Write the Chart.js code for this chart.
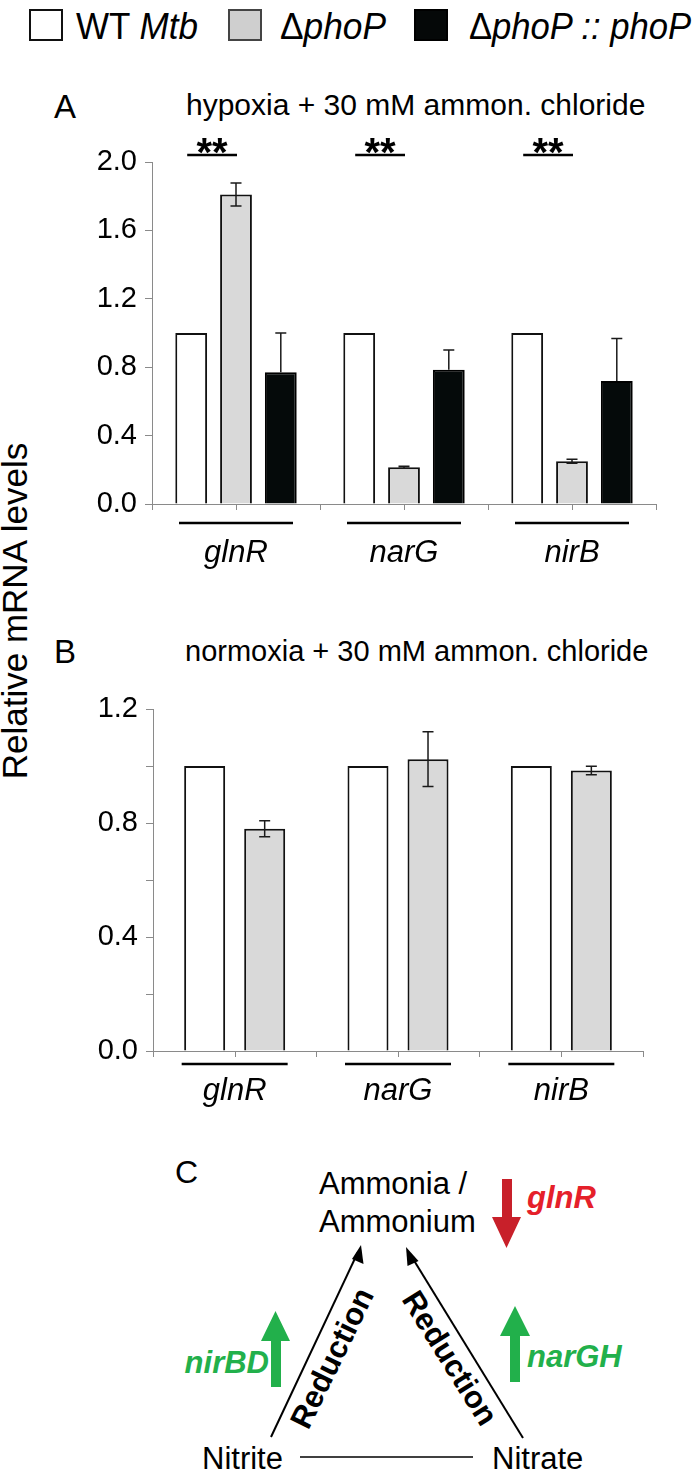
<!DOCTYPE html>
<html>
<head>
<meta charset="utf-8">
<script src="https://cdn.jsdelivr.net/npm/chart.js@4.4.1/dist/chart.umd.min.js"></script>
<style>
  html, body { margin: 0; padding: 0; background: #fff; }
  #page { position: relative; width: 700px; height: 1473px; overflow: hidden; font-family: 'Liberation Sans', Arial, Helvetica, sans-serif; }
  #page svg { position: absolute; left: 0; top: 0; }
  canvas { position: absolute; left: 0; }
  #chartA { top: 120px; }
  #chartB { top: 680px; }
</style>
</head>
<body>
<div id="page">
  <svg width="700" height="1473" font-family="'Liberation Sans', Arial, Helvetica, sans-serif">
    <!-- legend -->
    <rect x="30" y="10" width="32" height="30" fill="#fff" stroke="#111" stroke-width="2"/>
    <text x="76" y="39" font-size="36" textLength="122" lengthAdjust="spacingAndGlyphs">WT <tspan font-style="italic">Mtb</tspan></text>
    <rect x="229" y="10" width="32" height="30" fill="#cfcfcf" stroke="#444" stroke-width="2"/>
    <text x="280" y="39" font-size="36" textLength="106" lengthAdjust="spacingAndGlyphs">Δ<tspan font-style="italic">phoP</tspan></text>
    <rect x="415" y="10" width="32" height="30" fill="#050808" stroke="#000" stroke-width="2"/>
    <text x="469" y="39" font-size="36" textLength="222" lengthAdjust="spacingAndGlyphs">Δ<tspan font-style="italic">phoP :: phoP</tspan></text>

    <!-- panel titles -->
    <text x="54" y="118" font-size="33">A</text>
    <text x="186" y="115" font-size="30">hypoxia + 30 mM ammon. chloride</text>
    <text x="54" y="663" font-size="33">B</text>
    <text x="185" y="661" font-size="29">normoxia + 30 mM ammon. chloride</text>

    <!-- shared y title -->
    <text transform="translate(27,611) rotate(-90)" text-anchor="middle" font-size="35">Relative mRNA levels</text>

    <!-- panel C diagram -->
    <text x="175" y="1183" font-size="32">C</text>
    <text x="319" y="1194" font-size="31">Ammonia /</text>
    <text x="319" y="1232" font-size="31">Ammonium</text>
    <polygon points="502,1179 512,1179 512,1217 521,1217 506.5,1248 492,1217 502,1217" fill="#c8202a"/>
    <text x="527" y="1208" font-size="31" font-weight="bold" font-style="italic" fill="#e5202a">glnR</text>

    <line x1="271" y1="1437" x2="358" y2="1252" stroke="#000" stroke-width="2"/>
    <polygon points="361,1245 363.5,1264 352,1259" fill="#000"/>
    <line x1="523" y1="1438" x2="410" y2="1254" stroke="#000" stroke-width="2"/>
    <polygon points="406,1247 418.5,1261 407.5,1266" fill="#000"/>

    <text transform="translate(332,1358) rotate(-64)" text-anchor="middle" dominant-baseline="central" font-size="31" font-weight="bold">Reduction</text>
    <text transform="translate(450,1358) rotate(58)" text-anchor="middle" dominant-baseline="central" font-size="31" font-weight="bold">Reduction</text>

    <polygon points="271,1387 281,1387 281,1341 290,1341 275.5,1311 261,1341 271,1341" fill="#22b04b"/>
    <text x="269" y="1373" text-anchor="end" font-size="31" font-weight="bold" font-style="italic" fill="#22b04b">nirBD</text>
    <polygon points="510,1382 520,1382 520,1336 530,1336 515,1306 500,1336 510,1336" fill="#22b04b"/>
    <text x="527" y="1367" font-size="31" font-weight="bold" font-style="italic" fill="#22b04b">narGH</text>

    <text x="202" y="1469" font-size="31">Nitrite</text>
    <line x1="300" y1="1457" x2="473" y2="1457" stroke="#000" stroke-width="1.5"/>
    <text x="492" y="1469" font-size="31">Nitrate</text>
  </svg>
  <canvas id="chartA" width="700" height="480"></canvas>
  <canvas id="chartB" width="700" height="440"></canvas>
</div>
<script>
const genes = ["glnR", "narG", "nirB"];
const strains = ["WT Mtb", "ΔphoP", "ΔphoP :: phoP"];

// hypoxia + 30 mM ammonium chloride
const hypoxiaWT = [1.0, 1.0, 1.0];
const hypoxiaPhoP = [1.81, 0.215, 0.25];
const hypoxiaComp = [0.77, 0.785, 0.72];
const hypoxiaPhoPErr = [0.067, 0.006, 0.012];
const hypoxiaCompErr = [0.23, 0.115, 0.248];
const hypoxiaSig = ["**", "**", "**"];

// normoxia + 30 mM ammonium chloride
const normoxiaWT = [1.0, 1.0, 1.0];
const normoxiaPhoP = [0.78, 1.024, 0.984];
const normoxiaPhoPErr = [0.028, 0.096, 0.015];

const FONT = "'Liberation Sans', Arial, Helvetica, sans-serif";
const AXIS_GREY = "#8a8a8a";
const WHITE = "#ffffff";
const GREY = "#d9d9d9";
const BLACK = "#050a0a";

Chart.defaults.font.family = FONT;
Chart.defaults.color = "#000";

// error bars, centre ticks, gene underlines and significance marks
const extrasPlugin = {
    id: "extras",
    afterDatasetsDraw(chart, args, opts) {
        const { ctx, chartArea } = chart;
        const x = chart.scales.x;
        const y = chart.scales.y;
        ctx.save();

        ctx.strokeStyle = "#1a1a1a";
        ctx.lineWidth = 1.5;
        (opts.errors || []).forEach((errs, di) => {
            if (!errs) return;
            const upOnly = opts.upOnly && opts.upOnly[di];
            const meta = chart.getDatasetMeta(di);
            meta.data.forEach((bar, i) => {
                const v = chart.data.datasets[di].data[i];
                const e = errs[i];
                if (!e) return;
                const yTop = y.getPixelForValue(v + e);
                const yBot = upOnly ? y.getPixelForValue(v) : y.getPixelForValue(v - e);
                ctx.beginPath();
                ctx.moveTo(bar.x, yTop);
                ctx.lineTo(bar.x, yBot);
                ctx.moveTo(bar.x - 5.5, yTop);
                ctx.lineTo(bar.x + 5.5, yTop);
                if (!upOnly) {
                    ctx.moveTo(bar.x - 5.5, yBot);
                    ctx.lineTo(bar.x + 5.5, yBot);
                }
                ctx.stroke();
            });
        });

        // tick marks at category centres
        ctx.strokeStyle = AXIS_GREY;
        ctx.lineWidth = 1;
        x.ticks.forEach((t, i) => {
            const px = Math.round(x.getPixelForTick(i)) + 0.5;
            ctx.beginPath();
            ctx.moveTo(px, chartArea.bottom);
            ctx.lineTo(px, chartArea.bottom + 6);
            ctx.stroke();
        });

        // black line under each gene group
        ctx.strokeStyle = "#000";
        ctx.lineWidth = 2.5;
        genes.forEach((g, i) => {
            const px = x.getPixelForValue(i);
            const yy = chartArea.bottom + opts.underOffset;
            ctx.beginPath();
            ctx.moveTo(px - opts.underHalf, yy);
            ctx.lineTo(px + opts.underHalf, yy);
            ctx.stroke();
        });

        // significance marks between WT and ΔphoP
        if (opts.sig) {
            const m0 = chart.getDatasetMeta(0);
            const m1 = chart.getDatasetMeta(1);
            const fs = 40;
            ctx.fillStyle = "#000";
            ctx.textAlign = "center";
            ctx.textBaseline = "alphabetic";
            ctx.font = "bold " + fs + "px " + FONT;
            opts.sig.forEach((s, i) => {
                if (!s) return;
                const x0 = m0.data[i].x - 4;
                const x1 = m1.data[i].x + 1;
                ctx.beginPath();
                ctx.moveTo(x0, opts.sigY);
                ctx.lineTo(x1, opts.sigY);
                ctx.stroke();
                ctx.fillText(s, (x0 + x1) / 2, opts.sigY - 7 + 0.44 * fs);
            });
        }
        ctx.restore();
    },
};

function axisX(height, padding) {
    return {
        offset: true,
        grid: { offset: true, drawOnChartArea: false, tickLength: 6, color: AXIS_GREY },
        border: { color: AXIS_GREY, width: 1 },
        ticks: {
            font: { size: 31, style: "italic" },
            color: "#000",
            padding: padding,
            maxRotation: 0,
            autoSkip: false,
        },
        afterFit: (s) => { s.height = height; },
    };
}

function axisY(max, step, every, width) {
    return {
        min: 0,
        max: max,
        ticks: {
            stepSize: step,
            font: { size: 29 },
            color: "#000",
            padding: 8,
            callback: (v, i) => (i % every === 0 ? v.toFixed(1) : ""),
        },
        grid: { drawOnChartArea: false, tickLength: 7, color: AXIS_GREY },
        border: { color: AXIS_GREY, width: 1 },
        afterFit: (s) => { s.width = width; },
    };
}

new Chart(document.getElementById("chartA"), {
    type: "bar",
    data: {
        labels: genes,
        datasets: [
            { label: strains[0], data: hypoxiaWT, backgroundColor: WHITE, borderColor: "#111", borderWidth: 2 },
            { label: strains[1], data: hypoxiaPhoP, backgroundColor: GREY, borderColor: "#111", borderWidth: 2 },
            { label: strains[2], data: hypoxiaComp, backgroundColor: BLACK, borderColor: "#000", borderWidth: 2 },
        ],
    },
    options: {
        responsive: false,
        animation: false,
        devicePixelRatio: 1,
        categoryPercentage: 0.8,
        barPercentage: 0.71,
        layout: { padding: { top: 42, right: 44, left: 0, bottom: 0 } },
        scales: {
            x: axisX(96, 25),
            y: axisY(2.0, 0.2, 2, 152),
        },
        plugins: {
            legend: { display: false },
            tooltip: { enabled: false },
            extras: {
                errors: [null, hypoxiaPhoPErr, hypoxiaCompErr],
                upOnly: [false, false, true],
                underOffset: 19,
                underHalf: 57,
                sig: hypoxiaSig,
                sigY: 35,
            },
        },
    },
    plugins: [extrasPlugin],
});

new Chart(document.getElementById("chartB"), {
    type: "bar",
    data: {
        labels: genes,
        datasets: [
            { label: strains[0], data: normoxiaWT, backgroundColor: WHITE, borderColor: "#111", borderWidth: 2 },
            { label: strains[1], data: normoxiaPhoP, backgroundColor: GREY, borderColor: "#111", borderWidth: 2 },
        ],
    },
    options: {
        responsive: false,
        animation: false,
        devicePixelRatio: 1,
        categoryPercentage: 0.735,
        barPercentage: 0.683,
        layout: { padding: { top: 29, right: 57, left: 0, bottom: 0 } },
        scales: {
            x: axisX(69, 16),
            y: axisY(1.2, 0.1, 4, 153),
        },
        plugins: {
            legend: { display: false },
            tooltip: { enabled: false },
            extras: {
                errors: [null, normoxiaPhoPErr],
                underOffset: 13,
                underHalf: 53,
            },
        },
    },
    plugins: [extrasPlugin],
});
</script>
</body>
</html>
